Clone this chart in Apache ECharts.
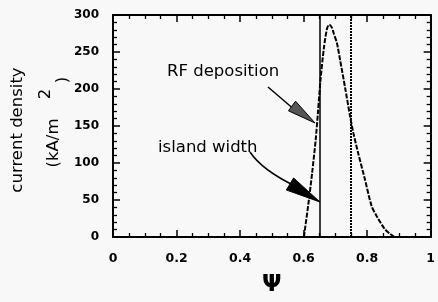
<!DOCTYPE html>
<html>
<head>
<meta charset="utf-8">
<script src="https://cdn.jsdelivr.net/npm/echarts@6/dist/echarts.min.js"></script>
<style>
  html, body { margin: 0; padding: 0; background: #f8f8f8; }
  #chart { width: 438px; height: 302px; }
</style>
</head>
<body>
<div id="chart"></div>
<script>
// 读图得到的数据
const psi = [0.601, 0.617, 0.627, 0.638, 0.645, 0.653, 0.664, 0.674, 0.681, 0.689, 0.695, 0.705,
  0.715, 0.731, 0.746, 0.757, 0.772, 0.793, 0.814, 0.829, 0.855, 0.870, 0.886];
const density = [0, 51, 87, 131, 167, 211, 256, 282, 287, 283, 275, 262,
  239, 201, 164, 140, 113, 78, 42, 29, 11, 5, 0];
const islandEdges = [0.652, 0.753];
const xTicks = [0, 0.2, 0.4, 0.6, 0.8, 1];
const yTicks = [0, 50, 100, 150, 200, 250, 300];

const FONT = 'DejaVu Sans';

function axisBase(extra) {
  return Object.assign({
    type: 'value',
    axisLine: { show: true, onZero: false, lineStyle: { color: '#000', width: 2 } },
    axisTick: { show: true, inside: true, length: 7, lineStyle: { color: '#000', width: 1.5 } },
    splitLine: { show: false },
    minorSplitLine: { show: false }
  }, extra);
}

function minor(n) {
  return { show: true, splitNumber: n, length: 4, lineStyle: { color: '#000', width: 1.3 } };
}

const chart = echarts.init(document.getElementById('chart'));

chart.setOption({
  backgroundColor: '#f8f8f8',
  animation: false,
  grid: { left: 113, right: 3, top: 15, bottom: 62 },
  xAxis: [
    axisBase({
      position: 'bottom', min: xTicks[0], max: xTicks[xTicks.length - 1], interval: 0.2,
      minorTick: minor(4),
      axisLabel: { margin: 15, color: '#000', fontFamily: FONT, fontWeight: 'bold', fontSize: 12.5 },
      name: 'Ψ', nameLocation: 'middle', nameGap: 37,
      nameTextStyle: { color: '#000', fontFamily: FONT, fontWeight: 'bold', fontSize: 23 }
    }),
    axisBase({
      position: 'top', min: xTicks[0], max: xTicks[xTicks.length - 1], interval: 0.2,
      minorTick: minor(4),
      axisLabel: { show: false }
    })
  ],
  yAxis: [
    axisBase({
      position: 'left', min: yTicks[0], max: yTicks[yTicks.length - 1], interval: 50,
      minorTick: minor(5),
      axisLabel: { margin: 14, color: '#000', fontFamily: FONT, fontWeight: 'bold', fontSize: 12 }
    }),
    axisBase({
      position: 'right', min: yTicks[0], max: yTicks[yTicks.length - 1], interval: 50,
      minorTick: minor(5),
      axisLabel: { show: false }
    })
  ],
  series: [{
    type: 'line',
    data: psi.map((p, i) => [p, density[i]]),
    symbol: 'none',
    smooth: 0.25,
    lineStyle: { color: '#000', width: 2, type: [5, 1.5] },
    markLine: {
      silent: true,
      symbol: 'none',
      label: { show: false },
      data: [
        { xAxis: islandEdges[0], lineStyle: { color: '#000', width: 1.5, type: 'solid' } },
        { xAxis: islandEdges[1], lineStyle: { color: '#000', width: 2, type: [2, 1] } }
      ]
    }
  }]
});

// 箭头：tip 尖端，base 底边中点
function arrowHead(tip, base, w, fill) {
  const dx = tip[0] - base[0], dy = tip[1] - base[1];
  const len = Math.sqrt(dx * dx + dy * dy);
  const nx = -dy / len * w / 2, ny = dx / len * w / 2;
  return {
    type: 'polygon',
    shape: { points: [tip, [base[0] + nx, base[1] + ny], [base[0] - nx, base[1] - ny]] },
    style: { fill: fill, stroke: '#000', lineWidth: 1 }
  };
}

const textStyle = { fill: '#000', font: '16.5px "DejaVu Sans"' };

function rotText(text, x, y) {
  return { type: 'text', x: x, y: y, rotation: Math.PI / 2,
    style: Object.assign({ text: text, align: 'center', verticalAlign: 'middle' }, textStyle) };
}

chart.setOption({
  graphic: [
    rotText('current density', 18, 130),
    rotText('(kA/m', 54, 143),
    rotText('2', 46, 94),
    rotText(')', 63, 80),

    { type: 'text', x: 167, y: 72,
      style: Object.assign({ text: 'RF deposition', align: 'left', verticalAlign: 'middle' }, textStyle) },
    { type: 'line', shape: { x1: 268, y1: 87, x2: 296, y2: 111 },
      style: { stroke: '#000', lineWidth: 1.5 } },
    arrowHead([315, 123], [292, 106], 12, '#555'),

    { type: 'text', x: 158, y: 148,
      style: Object.assign({ text: 'island width', align: 'left', verticalAlign: 'middle' }, textStyle) },
    { type: 'bezierCurve', shape: { x1: 250, y1: 152, cpx1: 262, cpy1: 170, x2: 295, y2: 186 },
      style: { stroke: '#000', lineWidth: 1.5, fill: 'none' } },
    arrowHead([320, 202], [290, 184], 14, '#000')
  ]
});
</script>
</body>
</html>
